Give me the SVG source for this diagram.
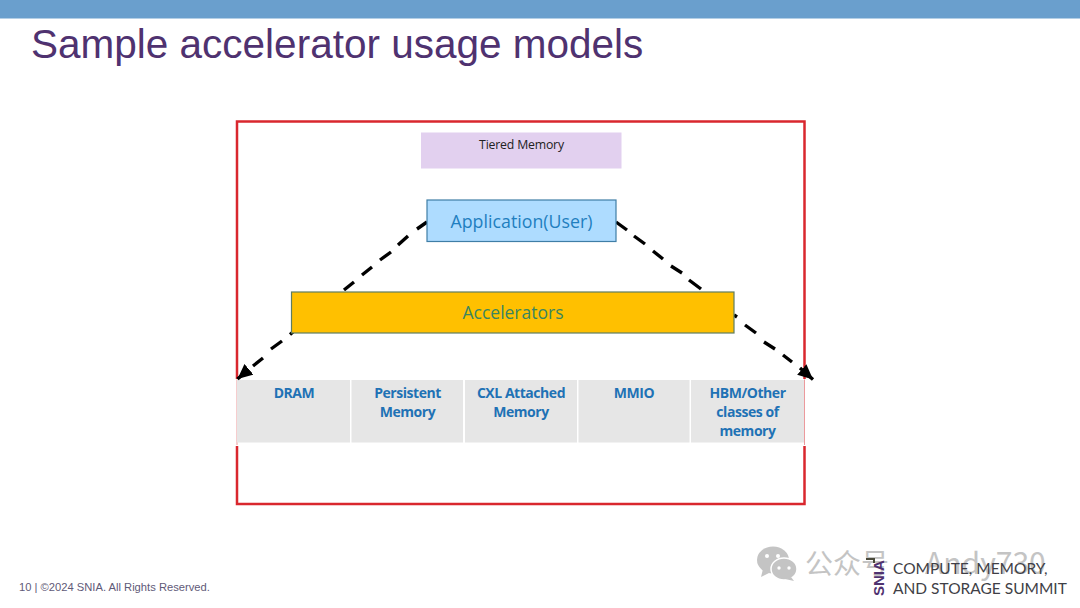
<svg xmlns="http://www.w3.org/2000/svg" width="1080" height="608" viewBox="0 0 1080 608">
<defs>
<marker id="arrow" markerUnits="userSpaceOnUse" markerWidth="17" markerHeight="15" refX="15" refY="7.500" orient="auto"><path d="M0 0.500L15 7.500L0 14.500Z" fill="#000"/></marker>
</defs>
<style>
.cell{fill:#e6e6e6}
.cellt{font-family:"Open Sans","Liberation Sans",sans-serif;font-size:14px;font-weight:700;fill:#1f72b5;text-anchor:middle;letter-spacing:-.45px}
.dash{fill:none;stroke:#000;stroke-width:3.4}
.wm{font-family:"Noto Sans CJK SC","Liberation Sans",sans-serif;fill:#c4c4c4}
.sum{font-family:"Lato","Liberation Sans",sans-serif;font-size:15.5px;fill:#3f3f46}
</style>
<rect id="top-band" x="0" y="0" width="1080" height="18.500" fill="#6a9fcd"/>
<text id="title" x="31" y="57.500" font-family="Liberation Sans,sans-serif" font-size="40.500" fill="#4f3270">Sample accelerator usage models</text>
<rect id="frame" x="237" y="121.500" width="567.500" height="382.500" fill="#fff" stroke="#d9272e" stroke-width="2.500"/>
<rect x="234" y="379" width="573" height="67" fill="#fff"/>
<path d="M237 379.500V445M804.500 379.500V445" stroke="#ec9a9d" stroke-width="1" fill="none"/>
<g id="dram"><rect class="cell" x="237" y="380" width="113" height="62.500"/><text class="cellt" x="294" y="398">DRAM</text></g>
<g id="persistent-memory"><rect class="cell" x="351.500" y="380" width="111.500" height="62.500"/><text class="cellt" x="407.500" y="398">Persistent</text><text class="cellt" x="407.500" y="417">Memory</text></g>
<g id="cxl-attached-memory"><rect class="cell" x="465" y="380" width="112" height="62.500"/><text class="cellt" x="521" y="398">CXL Attached</text><text class="cellt" x="521" y="417">Memory</text></g>
<g id="mmio"><rect class="cell" x="578.500" y="380" width="111" height="62.500"/><text class="cellt" x="634" y="398">MMIO</text></g>
<g id="hbm-other"><rect class="cell" x="691" y="380" width="113" height="62.500"/><text class="cellt" x="747.500" y="398">HBM/Other</text><text class="cellt" x="747.500" y="417">classes of</text><text class="cellt" x="747.500" y="436">memory</text></g>
<g id="tiered-memory"><rect x="421" y="132.500" width="200.500" height="36" fill="#e2d0ef"/><text x="521.500" y="148.500" font-family="Open Sans,Liberation Sans,sans-serif" font-size="12.300" fill="#222" text-anchor="middle" letter-spacing="-.2">Tiered Memory</text></g>
<g id="connectors">
<path class="dash" d="M427 222L417 229M408 236L398 245M391 252L380 260M372 267L362 275M354 282L344 290M293 332L290 334.500M282 341L271 349M263 358L253 366M247 371L237.500 379" marker-end="url(#arrow)"/>
<path class="dash" d="M616 222L627 230M634 236L645 244M653 251L663 259M671 266L682 273M689 280L701 289M734 315L737 317M745 325L756 333M764 342L775 349M783 355L792 362M800 368L813 379.500" marker-end="url(#arrow)"/>
</g>
<g id="application"><rect x="427" y="200" width="189" height="41.500" fill="#aedcff" stroke="#3f7ea6" stroke-width="1.200"/><text x="521.500" y="227.500" font-family="Open Sans,Liberation Sans,sans-serif" font-size="17.800" fill="#1f7fc0" text-anchor="middle">Application(User)</text></g>
<g id="accelerators"><rect x="291.500" y="292" width="442.500" height="41" fill="#ffc000" stroke="#5f7d5f" stroke-width="1.200"/><text x="513" y="318.500" font-family="Open Sans,Liberation Sans,sans-serif" font-size="17.500" fill="#3a8560" text-anchor="middle">Accelerators</text></g>
<text id="footer" x="19" y="591" font-family="Liberation Sans,sans-serif" font-size="11.200" fill="#5f5a78">10 | ©2024 SNIA. All Rights Reserved.</text>
<g id="watermark">
<ellipse cx="773" cy="560" rx="16" ry="13.500" fill="#c4c4c4"/><path d="M763 569L761 577L771 572Z" fill="#c4c4c4"/>
<ellipse cx="784" cy="569" rx="13" ry="11" fill="#c4c4c4" stroke="#fff" stroke-width="1.500"/><path d="M791 577L794 581L785 579Z" fill="#c4c4c4"/>
<circle cx="767" cy="556" r="2" fill="#fff"/><circle cx="778" cy="556" r="2" fill="#fff"/><circle cx="779" cy="568" r="1.700" fill="#fff"/><circle cx="789" cy="568" r="1.700" fill="#fff"/>
<text class="wm" x="805" y="574" font-size="28">公众号</text>
<text class="wm" x="925" y="574" font-size="30">Andy730</text>
</g>
<g id="snia-logo">
<text x="884" y="596" transform="rotate(-90 884 596)" font-family="Liberation Sans,sans-serif" font-size="15" font-weight="700" fill="#4f3270">SNIA</text>
<path d="M866 559H874V563" fill="none" stroke="#4a4a3a" stroke-width="2"/>
<text class="sum" x="893" y="574">COMPUTE, MEMORY,</text>
<text class="sum" x="893" y="594">AND STORAGE SUMMIT</text>
</g>
</svg>
